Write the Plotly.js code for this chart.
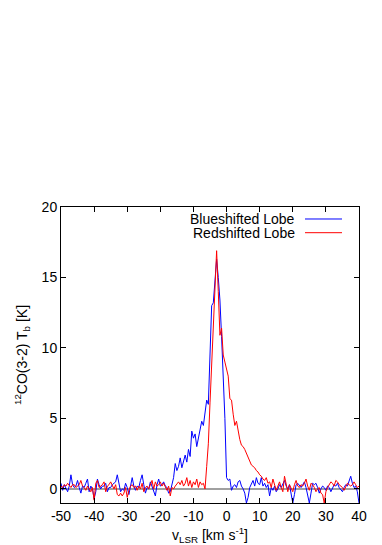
<!DOCTYPE html>
<html>
<head>
<meta charset="utf-8">
<script src="https://cdn.plot.ly/plotly-3.0.1.min.js"></script>
<style>html,body{margin:0;padding:0;background:#fff;}#chart{width:382px;height:545px;}</style>
</head>
<body>
<div id="chart"></div>
<script>
// Channel grid (km/s)
var vStart = -50;
var vStep = 0.5;
var xTicks = [-50, -40, -30, -20, -10, 0, 10, 20, 30, 40];
var yTicks = [0, 5, 10, 15, 20];
var seriesNames = ["Blueshifted Lobe", "Redshifted Lobe"];

var blueTb = [
0.4,-0.1,0.3,0.1,-0.2,0.2,1.0,0.3,0.1,0.2,
0.6,0.1,-0.3,0.2,0.1,0.4,0.7,-0.2,0.2,0.0,
-0.7,-0.2,0.7,0.3,0.0,0.2,0.2,0.4,-0.2,0.1,
0.1,0.3,0.4,0.5,1.0,0.3,-0.2,0.0,-0.1,0.4,
0.1,-0.4,0.3,0.8,0.2,-0.1,0.2,0.1,0.6,1.0,
0.3,-0.3,0.1,0.0,0.5,0.2,-0.2,-0.5,0.3,0.7,
0.2,0.3,0.5,0.2,0.1,-0.3,-0.2,0.4,0.8,1.8,
1.3,1.6,2.2,1.5,2.0,2.4,1.9,2.8,2.3,4.1,
3.6,3.9,3.0,3.6,4.1,4.8,4.5,5.6,6.3,6.0,
9.5,13.0,13.2,15.0,16.3,15.0,13.4,10.8,8.2,5.0,
0.8,0.6,0.7,-0.1,0.2,0.3,0.1,0.5,0.6,0.2,
0.0,-0.3,-1.0,-0.6,0.1,0.4,0.6,0.2,0.8,0.4,
0.3,0.8,0.2,0.4,0.1,0.3,-0.5,0.1,-0.1,0.2,
-0.2,0.0,0.3,0.1,0.4,0.6,0.2,0.0,0.3,-0.3,
-1.0,-0.4,0.3,0.4,0.2,0.1,0.3,0.5,0.1,-0.4,
-1.0,-0.3,0.4,0.3,0.4,0.1,-0.3,0.0,0.2,0.1,
-0.1,0.2,0.1,-0.2,0.0,0.3,0.2,0.4,0.1,-0.1,
-0.2,0.1,0.3,0.2,0.5,0.9,0.4,0.1,0.2,-0.2,
-1.0
];

var redTb = [
0.2,0.1,0.3,0.2,0.4,0.2,0.1,0.3,0.3,0.1,
0.2,0.3,0.6,0.2,0.1,-0.1,0.2,0.0,-0.2,0.1,
-0.8,0.4,0.6,0.1,0.2,0.3,0.5,-0.2,0.2,0.3,
0.5,0.2,0.0,0.3,-0.4,-0.5,-0.3,-0.5,-0.3,0.1,
-0.6,-0.1,0.2,0.3,0.1,0.2,-0.1,0.2,0.0,0.4,
-0.2,0.1,0.2,0.0,0.3,0.6,0.0,0.5,0.2,0.3,
0.5,0.2,0.4,0.1,-0.1,0.2,-0.5,0.1,0.0,0.2,
0.4,0.5,0.3,0.6,0.2,0.4,0.8,0.2,0.6,0.1,
0.5,0.3,0.7,0.1,0.5,0.3,0.4,0.0,1.6,3.2,
6.1,8.8,11.5,14.1,16.9,14.0,10.9,11.4,9.5,9.0,
8.4,8.0,6.4,6.3,5.3,4.5,4.8,4.0,3.5,3.1,
3.0,2.8,2.5,2.3,2.0,1.7,1.6,1.5,1.3,1.2,
1.0,0.9,0.7,0.6,0.8,0.4,0.5,0.1,0.7,0.3,
-0.1,0.2,0.5,0.1,-0.2,0.9,0.2,-0.2,0.3,0.1,
-0.2,0.3,0.6,0.2,0.1,0.3,0.2,0.4,0.7,0.2,
-0.1,0.4,0.3,0.1,-0.2,0.0,0.1,-0.3,-0.4,-1.0,
-0.2,0.1,0.3,0.5,0.4,0.2,0.6,0.5,0.3,0.2,
0.1,-0.1,0.2,0.4,0.3,0.2,0.3,0.5,0.3,0.1,
0.2
];

function grid(n){ var a=[]; for(var i=0;i<n;i++){ a.push(vStart+i*vStep); } return a; }

var font = "Liberation Sans, Arial, sans-serif";
var fs = 14;
var traces = [
  {x: grid(blueTb.length), y: blueTb, type: "scatter", mode: "lines", name: seriesNames[0],
   line: {color: "#0000ff", width: 1}, showlegend: false},
  {x: grid(redTb.length), y: redTb, type: "scatter", mode: "lines", name: seriesNames[1],
   line: {color: "#ff0000", width: 1}, showlegend: false}
];

var layout = {
  width: 382, height: 545,
  margin: {l: 61, r: 23, t: 207, b: 42, pad: 0},
  paper_bgcolor: "#ffffff", plot_bgcolor: "#ffffff",
  font: {family: font, size: fs, color: "#000"},
  showlegend: false,
  xaxis: {
    range: [-50, 40], tickvals: xTicks, ticktext: xTicks.map(String),
    ticks: "inside", ticklen: 5, tickcolor: "#000", tickwidth: 1,
    showline: true, linecolor: "#000", linewidth: 1, mirror: "ticks",
    showgrid: false, zeroline: false, automargin: false,
    tickfont: {family: font, size: fs, color: "#000"},
    title: {text: "v<sub>LSR</sub> [km s<sup>-1</sup>]", font: {family: font, size: fs, color: "#000"}, standoff: 9}
  },
  yaxis: {
    range: [-1, 20], tickvals: yTicks, ticktext: yTicks.map(String),
    ticks: "inside", ticklen: 5, tickcolor: "#000", tickwidth: 1,
    showline: true, linecolor: "#000", linewidth: 1, mirror: "ticks",
    showgrid: false, zeroline: true, zerolinecolor: "#a0a0a0", zerolinewidth: 1.5,
    automargin: false,
    tickfont: {family: font, size: fs, color: "#000"},
    title: {text: "<sup>12</sup>CO(3-2) T<sub>b</sub> [K]", font: {family: font, size: fs, color: "#000"}, standoff: 10}
  },
  annotations: [
    {xref: "paper", yref: "paper", x: 0.7876, y: 0.9595, xanchor: "right", yanchor: "middle",
     height: 13, valign: "middle", borderpad: 0,
     text: seriesNames[0], showarrow: false, font: {family: font, size: fs, color: "#000"}},
    {xref: "paper", yref: "paper", x: 0.7876, y: 0.9132, xanchor: "right", yanchor: "middle",
     height: 13, valign: "middle", borderpad: 0,
     text: seriesNames[1], showarrow: false, font: {family: font, size: fs, color: "#000"}}
  ],
  shapes: [
    {type: "line", xref: "paper", yref: "paper", x0: 0.8188, x1: 0.943, y0: 0.9595, y1: 0.9595,
     line: {color: "#0000ff", width: 1}},
    {type: "line", xref: "paper", yref: "paper", x0: 0.8188, x1: 0.943, y0: 0.9132, y1: 0.9132,
     line: {color: "#ff0000", width: 1}}
  ]
};

Plotly.newPlot("chart", traces, layout, {displayModeBar: false, staticPlot: true});
</script>
</body>
</html>
